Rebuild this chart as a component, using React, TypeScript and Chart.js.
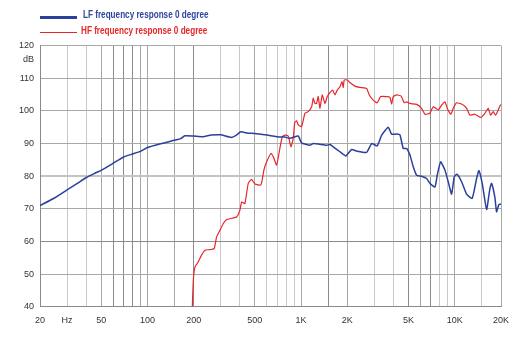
import React, { useEffect, useRef } from "react";
import { Chart, registerables } from "chart.js";

Chart.register(...registerables);

const lfFreq = [20,25,30,35,40,45,50,60,70,80,90,100,120,150,165,175,200,230,260,300,352,380,405,450,500,600,730,768,848,958,1008,1142,1200,1466,1540,1619,1790,1958,2133,2300,2672,2880,3132,3346,3692,3881,4186,4398,4621,4863,5110,5370,5648,6086,6561,6894,7432,7692,8093,8630,9070,9541,9921,10328,11080,11948,12988,13874,14364,15092,16120,16940,17376,18250,18720,19400,20000];
const lfDb = [71.0,73.4,75.8,77.8,79.6,80.8,81.8,84.0,85.9,86.8,87.6,88.8,89.9,91.0,91.5,92.4,92.3,92.1,92.6,92.7,91.9,92.6,93.6,93.2,93.1,92.6,92.0,92.1,91.6,92.3,90.2,89.5,90.0,89.5,89.7,89.0,87.5,86.2,88.2,87.7,87.3,90.0,89.3,92.6,95.0,92.9,92.9,92.7,88.5,88.5,86.5,82.9,80.3,80.0,79.3,77.8,76.7,80.3,84.4,81.9,78.3,74.5,79.8,80.6,78.3,74.5,73.2,79.3,81.7,77.8,69.8,76.3,77.8,73.5,69.1,71.4,71.4];

const hfFreq = [196,199,204,214,225,237,255,272,282,297,312,328,353,381,400,411,431,453,477,501,548,573,597,637,659,693,718,754,785,825,859,889,910,936,959,1008,1060,1113,1172,1200,1231,1262,1293,1327,1373,1430,1480,1541,1605,1661,1719,1790,1845,1881,1909,1997,2079,2240,2415,2671,2778,2948,3130,3294,3604,3786,3884,3978,4186,4466,4692,4863,5110,5648,6086,6397,6894,7246,7808,8216,8630,8990,9446,9774,10284,11080,11948,12556,13530,14802,15714,16510,17114,17798,18450,19184,19672,20000];
const hfDb = [40,48.1,52.2,53.7,55.8,57.3,57.5,57.8,61.4,63.5,65.5,66.7,67.1,67.5,69.6,72.1,71.6,77.8,79.0,77.6,77.3,81.9,84.4,87.0,86.0,83.4,87.0,92.1,92.6,92.3,89.0,91.6,96.5,97.0,95.7,95.2,99.3,99.8,101.3,103.9,102.3,102.3,104.4,100.8,104.9,102.3,104.4,105.6,106.4,104.9,106.4,107.4,109.0,107.2,109.5,109.5,108.7,107.6,107.2,106.9,104.9,103.3,102.5,104.4,104.4,104.2,102.1,104.4,104.9,104.6,102.5,102.8,102.3,102.0,100.8,99.0,99.3,101.3,100.3,101.8,102.8,100.5,99.0,100.8,102.5,102.1,100.8,98.7,99.0,98.0,99.3,100.8,98.7,99.8,98.7,100.3,101.5,102.0];

const gridFreqs = [20,30,40,50,60,70,80,90,100,150,200,300,400,500,600,700,800,900,1000,1500,2000,3000,4000,5000,6000,7000,8000,9000,10000,15000,20000];
const darkGridFreqs = [60,70,80,200,1500,5000,7000];
const lightGridFreqs = [30,40,300,400,600,700,800,900,3000,4000,8000,9000,15000];
const xTickLabels: Record<number, string> = {20:"20",30:"Hz",50:"50",100:"100",200:"200",500:"500",1000:"1K",2000:"2K",5000:"5K",10000:"10K",20000:"20K"};

const lfLabel = "LF frequency response 0 degree";
const hfLabel = "HF frequency response 0 degree";
const yUnit = "dB";

const BLUE = "#2a409c";
const RED = "#e8262a";

export default function App() {
  const ref = useRef<HTMLCanvasElement | null>(null);
  useEffect(() => {
    if (!ref.current) return;
    const unitPlugin = {
      id: "unitLabel",
      afterDraw(chart: any) {
        const y = chart.scales.y;
        const c = chart.ctx;
        c.save();
        c.font = "9px 'Liberation Sans', Arial, sans-serif";
        c.fillStyle = "#333";
        c.textAlign = "right";
        c.textBaseline = "middle";
        c.fillText(yUnit, y.right - 6, y.getPixelForValue(120) + 14);
        c.restore();
      },
    };
    const chart = new Chart(ref.current, {
      type: "line",
      data: {
        datasets: [
          {
            label: lfLabel,
            data: lfFreq.map((f, i) => ({ x: f, y: lfDb[i] })),
            borderColor: BLUE,
            borderWidth: 1.5,
            pointRadius: 0,
            tension: 0.15,
          },
          {
            label: hfLabel,
            data: hfFreq.map((f, i) => ({ x: f, y: hfDb[i] })),
            borderColor: RED,
            borderWidth: 1.2,
            pointRadius: 0,
            tension: 0.15,
          },
        ],
      },
      options: {
        animation: false,
        responsive: true,
        maintainAspectRatio: false,
        layout: { padding: { top: 45.7, right: 21, bottom: 0, left: 0 } },
        plugins: { legend: { display: false }, tooltip: { enabled: false } },
        scales: {
          x: {
            type: "logarithmic",
            min: 20,
            max: 20000,
            afterBuildTicks: (s: any) => {
              s.ticks = gridFreqs.map((v) => ({ value: v }));
            },
            afterFit: (s: any) => {
              s.height = 31.3;
            },
            ticks: {
              autoSkip: false,
              maxRotation: 0,
              padding: 8,
              color: "#333",
              font: { family: "'Liberation Sans', Arial, sans-serif", size: 9 },
              callback: (v: any) => xTickLabels[Number(v)] ?? "",
            },
            grid: {
              drawTicks: false,
              color: (ctx: any) => {
                const v = ctx.tick ? ctx.tick.value : 0;
                if (darkGridFreqs.includes(v)) return "#8a8a8a";
                if (lightGridFreqs.includes(v)) return "#c8c8c8";
                return "#a8a8a8";
              },
              lineWidth: 1,
            },
            border: { color: "#8a8a8a" },
          },
          y: {
            min: 40,
            max: 120,
            afterFit: (s: any) => {
              s.width = 40;
            },
            ticks: {
              stepSize: 10,
              padding: 6,
              color: "#333",
              font: { family: "'Liberation Sans', Arial, sans-serif", size: 9 },
            },
            grid: {
              drawTicks: false,
              color: (ctx: any) => {
                const v = ctx.tick ? ctx.tick.value : 0;
                if (v === 80) return "#c4c4c4";
                if (v === 60) return "#8a8a8a";
                return "#a8a8a8";
              },
              lineWidth: (ctx: any) => (ctx.tick && ctx.tick.value === 80 ? 2 : 1),
            },
            border: { color: "#8a8a8a" },
          },
        },
      },
      plugins: [unitPlugin],
    } as any);
    return () => chart.destroy();
  }, []);

  const legendText: React.CSSProperties = {
    position: "absolute",
    fontFamily: "'Liberation Sans', Arial, sans-serif",
    fontWeight: "bold",
    fontSize: "10px",
    lineHeight: "12px",
    whiteSpace: "nowrap",
    transform: "scaleX(0.815)",
    transformOrigin: "0 50%",
  };

  return (
    <div style={{ position: "fixed", left: 0, top: 0, width: 522, height: 338, background: "#fff" }}>
      <div style={{ position: "absolute", left: 40, top: 15.5, width: 37, height: 3, background: BLUE }} />
      <div style={{ ...legendText, left: 83, top: 9, color: "#2e469e" }}>{lfLabel}</div>
      <div style={{ position: "absolute", left: 40, top: 31.5, width: 37, height: 1.5, background: RED }} />
      <div style={{ ...legendText, left: 81, top: 24.5, color: RED }}>{hfLabel}</div>
      <canvas ref={ref} />
    </div>
  );
}
